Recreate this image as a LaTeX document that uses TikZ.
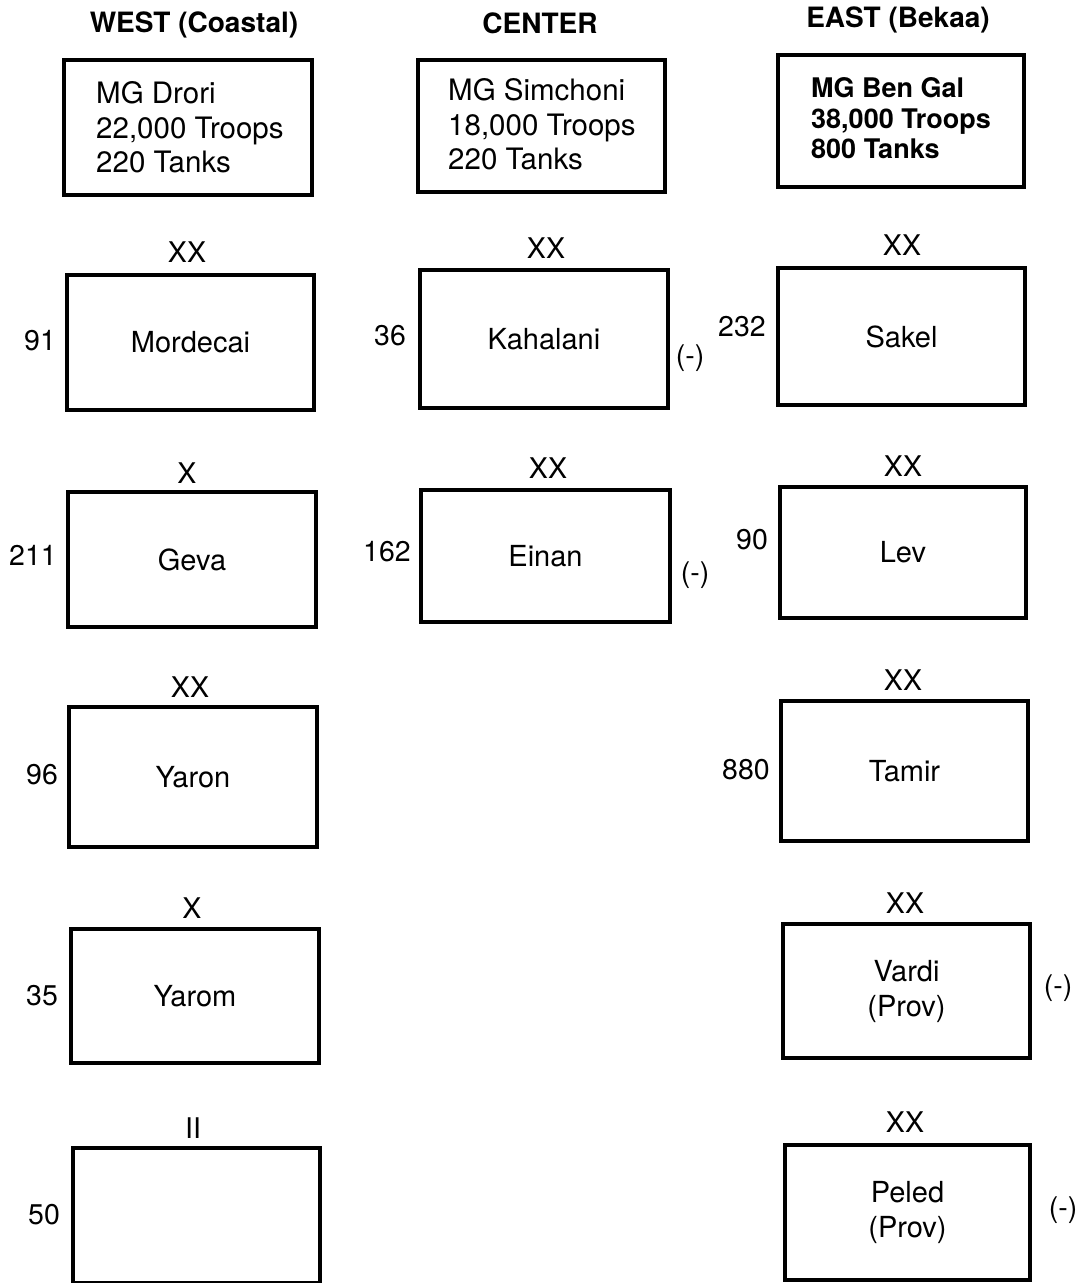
\documentclass[tikz,border=0pt]{standalone}
\usepackage{fontspec}
\setmainfont{TeX Gyre Heros}
\begin{document}
\begin{tikzpicture}[x=1pt,y=-1pt,
  unit/.style={draw, line width=3.6pt, inner sep=0pt, align=center,
    font=\fontsize{29}{35}\selectfont},
  lbl/.style={inner sep=0pt, font=\fontsize{28.5}{35}\selectfont},
  hdr/.style={inner sep=0pt, font=\bfseries\fontsize{28}{32}\selectfont},
  cmdtext/.style={inner sep=0pt, anchor=west, align=left}]
\useasboundingbox[fill=white] (0,0) rectangle (1087,1283);

% headers
\node[hdr] (hW) at (194,25) {WEST (Coastal)};
\node[hdr] (hC) at (540,23) {CENTER};
\node[hdr] (hE) at (898,20) {EAST (Bekaa)};

% command boxes
\node[unit, minimum width=248pt, minimum height=135pt, line width=4.2pt] (cW) at (188,127.5) {};
\node[cmdtext, font=\fontsize{29.5}{34.5}\selectfont] (tW) at (96,127.5) {MG Drori\\22,000 Troops\\220 Tanks};
\node[unit, minimum width=247pt, minimum height=132pt, line width=4.2pt] (cC) at (541.5,126) {};
\node[cmdtext, font=\fontsize{29.5}{34.5}\selectfont] (tC) at (448,124.5) {MG Simchoni\\18,000 Troops\\220 Tanks};
\node[unit, minimum width=246pt, minimum height=132pt, line width=4.2pt] (cE) at (901,121) {};
\node[cmdtext, font=\bfseries\fontsize{27}{30.5}\selectfont] (tE) at (811,118.5) {MG Ben Gal\\38,000 Troops\\800 Tanks};

% WEST column
\node[unit, minimum width=247pt, minimum height=135pt] (mord) at (190.5,342.5) {Mordecai};
\node[lbl] (eMord) at (187,252) {XX};
\node[lbl] (nMord) at (40,341) {91};

\node[unit, minimum width=248pt, minimum height=135pt] (geva) at (192,559.5) {Geva};
\node[lbl] (eGeva) at (187,473) {X};
\node[lbl] (nGeva) at (33,555) {211};

\node[unit, minimum width=248pt, minimum height=140pt] (yaron) at (193,777) {Yaron};
\node[lbl] (eYaron) at (190,687) {XX};
\node[lbl] (nYaron) at (42,775) {96};

\node[unit, minimum width=248pt, minimum height=134pt] (yarom) at (195,996) {Yarom};
\node[lbl] (eYarom) at (192,908) {X};
\node[lbl] (nYarom) at (42,996) {35};

\node[unit, minimum width=247pt, minimum height=135pt] (b50) at (196.5,1215.5) {};
\node[lbl] (e50) at (193,1128) {II};
\node[lbl] (n50) at (44,1215) {50};

% CENTER column
\node[unit, minimum width=248pt, minimum height=138pt] (kah) at (544,339) {Kahalani};
\node[lbl] (eKah) at (546,248) {XX};
\node[lbl] (nKah) at (390,336) {36};
\node[lbl] (mKah) at (690,358) {(-)};

\node[unit, minimum width=249pt, minimum height=132pt] (ein) at (545.5,556) {Einan};
\node[lbl] (eEin) at (548,468) {XX};
\node[lbl] (nEin) at (387,552) {162};
\node[lbl] (mEin) at (695,575) {(-)};

% EAST column
\node[unit, minimum width=247pt, minimum height=137pt] (sak) at (901.5,336.5) {Sakel};
\node[lbl] (eSak) at (902,245) {XX};
\node[lbl] (nSak) at (742,327) {232};

\node[unit, minimum width=246pt, minimum height=131pt] (lev) at (903,552.5) {Lev};
\node[lbl] (eLev) at (903,466) {XX};
\node[lbl] (nLev) at (752,540) {90};

\node[unit, minimum width=247pt, minimum height=140pt] (tam) at (904.5,771) {Tamir};
\node[lbl] (eTam) at (903,680) {XX};
\node[lbl] (nTam) at (746,770) {880};

\node[unit, minimum width=247pt, minimum height=134pt] (var) at (906.5,991) {Vardi\\(Prov)};
\node[lbl] (eVar) at (905,903) {XX};
\node[lbl] (mVar) at (1058,988) {(-)};

\node[unit, minimum width=245pt, minimum height=135pt] (pel) at (907.5,1212.5) {Peled\\(Prov)};
\node[lbl] (ePel) at (905,1122) {XX};
\node[lbl] (mPel) at (1063,1210) {(-)};
\end{tikzpicture}
\end{document}
